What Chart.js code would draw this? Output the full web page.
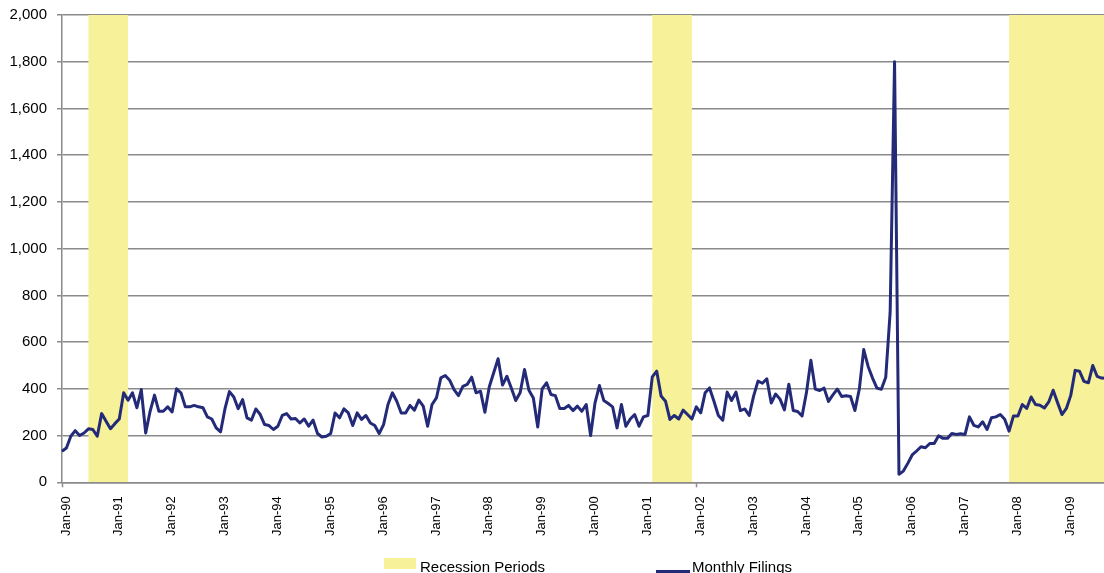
<!DOCTYPE html>
<html>
<head>
<meta charset="utf-8">
<script src="https://cdn.jsdelivr.net/npm/chart.js@4.4.1/dist/chart.umd.min.js"></script>
<style>
  html, body { margin: 0; padding: 0; background: #ffffff; overflow: hidden; width: 1104px; height: 573px; }
  #wrap { position: absolute; left: 0; top: 0; width: 1107px; height: 573px; }
  .lg { position: absolute; font-family: "Liberation Sans", Arial, sans-serif; font-size: 15px; line-height: 17px; color: #000; white-space: nowrap; }
  .box { position: absolute; }
</style>
</head>
<body>
<div id="wrap"><canvas id="c"></canvas></div>
<div class="box" id="lgRec" style="left:384px; top:558px; width:32px; height:11px; background:#f7f299;"></div>
<div class="lg" style="left:420px; top:558px;">Recession Periods</div>
<div class="box" id="lgLine" style="left:656px; top:570px; width:34px; height:3px; background:#232a78;"></div>
<div class="lg" style="left:692px; top:558px;">Monthly Filings</div>
<script>
// ---- data ----
const monthNames = ['Jan','Feb','Mar','Apr','May','Jun','Jul','Aug','Sep','Oct','Nov','Dec'];
const startYear = 1990;

// monthly filings, Jan-90 .. Oct-09
const filings = [
  133,147,197,221,200,211,229,226,197,294,
  261,229,251,271,383,351,383,319,397,211,
  304,373,304,304,323,301,400,383,323,323,
  329,323,319,280,271,233,216,315,388,365,
  315,354,276,266,314,290,247,243,226,240,
  286,294,271,273,254,271,240,266,209,194,
  197,209,297,276,314,297,243,297,269,286,
  254,243,209,247,333,383,347,297,297,329,
  309,352,326,240,333,361,447,457,437,397,
  371,411,419,450,383,390,300,409,469,529,
  416,454,404,350,383,483,394,361,237,400,
  426,376,371,316,316,329,307,326,304,333,
  200,340,414,350,337,323,233,333,240,271,
  290,240,280,286,451,476,369,347,269,286,
  271,309,290,271,323,297,383,404,347,286,
  266,386,350,386,307,314,286,369,433,424,
  443,339,378,356,310,420,307,303,284,384,
  522,399,393,403,346,374,399,367,370,367,
  307,399,568,496,446,403,398,450,728,1800,
  34,48,81,117,134,152,148,166,166,199,
  188,188,209,205,208,205,280,244,237,259,
  226,276,280,290,270,219,284,284,333,316,
  365,333,330,318,344,394,341,290,316,372,
  479,475,432,426,500,453,446,445
];

// recession periods (first month, last month)
const recessions = [
  ['Jul-90', 'Mar-91'],
  ['Mar-01', 'Nov-01'],
  ['Dec-07', 'Oct-09']
];

const yTicks = [0, 200, 400, 600, 800, 1000, 1200, 1400, 1600, 1800, 2000];

// ---- derived ----
const months = filings.map((_, i) => {
  const y = startYear + Math.floor(i / 12);
  return monthNames[i % 12] + '-' + String(y % 100).padStart(2, '0');
});
const recessionTop = yTicks[yTicks.length - 1];
const recessionBand = months.map((m, i) => {
  const inside = recessions.some(([a, b]) => i >= months.indexOf(a) && i <= months.indexOf(b));
  return inside ? recessionTop : 0;
});

const FONT = '"Liberation Sans", Arial, sans-serif';
const GRID = '#8a8a8a';

new Chart(document.getElementById('c'), {
  type: 'line',
  data: {
    labels: months,
    datasets: [
      {
        label: 'Monthly Filings',
        data: filings,
        borderColor: '#232a78',
        backgroundColor: '#232a78',
        borderWidth: 3,
        pointRadius: 0,
        tension: 0,
        borderJoinStyle: 'round',
        fill: false,
        order: 1
      },
      {
        label: 'Recession Periods',
        data: recessionBand,
        stepped: 'before',
        borderWidth: 0,
        borderColor: 'rgba(0,0,0,0)',
        backgroundColor: '#f7f299',
        pointRadius: 0,
        fill: 'origin',
        order: 2
      }
    ]
  },
  options: {
    responsive: true,
    maintainAspectRatio: false,
    animation: false,
    layout: { padding: { left: 0, top: 15, right: 1, bottom: 0 } },
    plugins: {
      legend: { display: false },
      tooltip: { enabled: false }
    },
    scales: {
      x: {
        type: 'category',
        grid: {
          display: true,
          drawOnChartArea: false,
          drawTicks: true,
          tickLength: 5,
          tickWidth: 1.5,
          tickColor: (ctx) => (ctx.index % 12 === 0 ? GRID : 'rgba(0,0,0,0)'),
          color: GRID
        },
        border: { display: true, color: GRID, width: 1.5 },
        ticks: {
          autoSkip: false,
          maxRotation: 90,
          minRotation: 90,
          padding: 9,
          labelOffset: 4,
          color: '#000',
          font: { family: FONT, size: 13 },
          callback: (v, i) => (i % 12 === 0 ? months[i] : null)
        },
        afterFit: (s) => { s.height = 90.7; s.paddingLeft = 0; s.paddingRight = 0; }
      },
      y: {
        min: 0,
        max: 2000,
        afterBuildTicks: (s) => { s.ticks = yTicks.map(v => ({ value: v })); },
        grid: { color: GRID, lineWidth: 1.5, tickLength: 5, drawTicks: true, tickColor: GRID },
        border: { display: true, color: GRID, width: 1.5 },
        ticks: {
          padding: 10,
          color: '#000',
          font: { family: FONT, size: 15 },
          callback: (v) => Number(v).toLocaleString('en-US')
        },
        afterFit: (s) => { s.width = 62; s.paddingTop = 0; s.paddingBottom = 0; }
      }
    }
  }
});
</script>
</body>
</html>
